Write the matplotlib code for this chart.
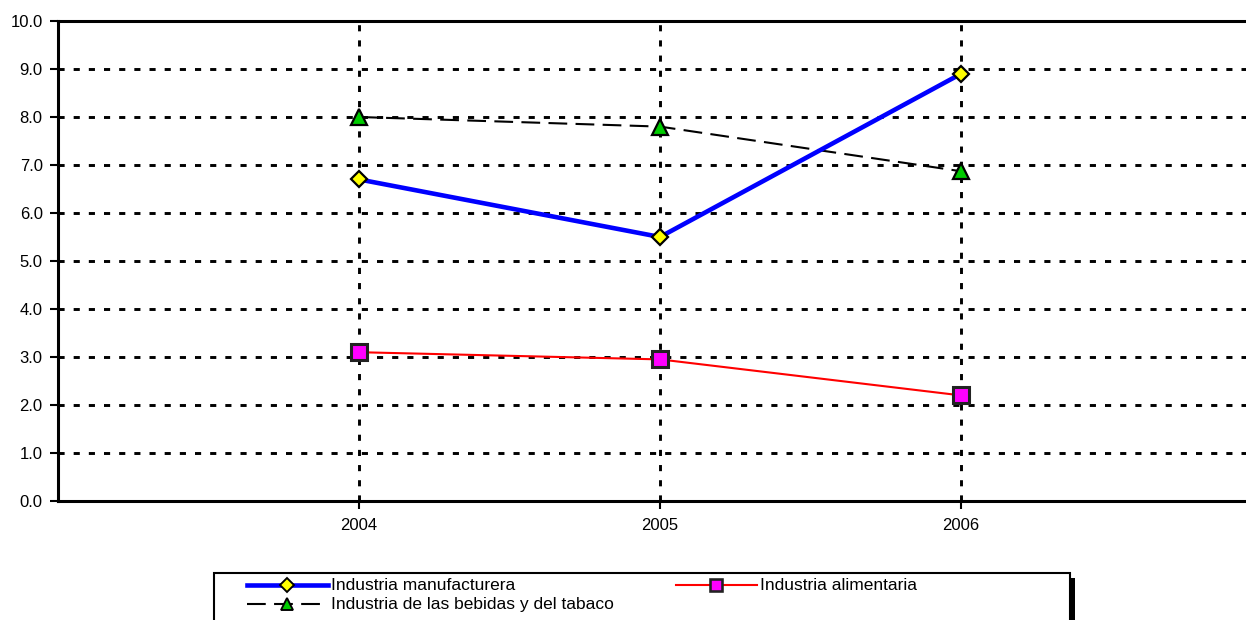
import matplotlib
matplotlib.use("Agg")
import matplotlib.pyplot as plt
from matplotlib.lines import Line2D
from matplotlib.patches import Rectangle

plt.rcParams["font.family"] = ["Liberation Sans", "DejaVu Sans"]

years = ["2004", "2005", "2006"]
manufacturera = [6.7, 5.5, 8.9]
alimentaria = [3.1, 2.95, 2.2]
bebidas = [8.0, 7.8, 6.87]
yticks = [0, 1, 2, 3, 4, 5, 6, 7, 8, 9, 10]

W, H = 1246, 620
fig = plt.figure(figsize=(W / 100, H / 100), dpi=100)
ax = fig.add_axes([58 / W, 1 - 501 / H, 1 - 58 / W, (501 - 21) / H])

x = list(range(len(years)))
grid_ls = (0, (2.1, 3.1))
for v in yticks[1:]:
    ax.axhline(v, color="black", lw=2.1, ls=grid_ls, zorder=1)
for xi in x:
    ax.axvline(xi, color="black", lw=2.1, ls=grid_ls, zorder=1)

sty_bev = dict(color="black", lw=1.5, ls=(0, (9, 4)), marker="^", ms=11,
               mfc="#00cc00", mec="black", mew=1.6)
sty_man = dict(color="#0000ff", lw=3.3, marker="D", ms=8.5, mfc="#ffff00",
               mec="black", mew=1.6)
sty_ali = dict(color="#ff0000", lw=1.5, marker="s", ms=11, mfc="#ff00ff",
               mec="#222222", mew=2.2)

ax.plot(x, bebidas, zorder=3, **sty_bev)
ax.plot(x, manufacturera, zorder=4, **sty_man)
ax.plot(x, alimentaria, zorder=4, **sty_ali)

ax.set_xlim(-1, -1 + (W - 58) / 301)
ax.set_ylim(0, 10)
ax.set_xticks(x)
ax.set_xticklabels(years)
ax.set_yticks(yticks)
ax.set_yticklabels([f"{v:.1f}" for v in yticks])
ax.tick_params(axis="both", labelsize=12, width=1.5, length=6, color="black")
ax.tick_params(axis="x", pad=6)
ax.tick_params(axis="y", pad=5)
for s in ["left", "bottom", "top"]:
    ax.spines[s].set_linewidth(2.2)
    ax.spines[s].set_color("black")
    ax.spines[s].set_zorder(5)
ax.spines["right"].set_visible(False)


def fx(px):
    return px / W


def fy(py):
    return 1 - py / H


# legend box with shadow
fig.add_artist(Rectangle((fx(219), fy(640)), fx(856), 640 / H - 578 / H,
                         transform=fig.transFigure, facecolor="black",
                         edgecolor="none", zorder=1))
fig.add_artist(Rectangle((fx(214), fy(635)), fx(856), 635 / H - 573 / H,
                         transform=fig.transFigure, facecolor="white",
                         edgecolor="black", lw=1.5, zorder=2))

entries = [
    ("Industria manufacturera", 247, 585, sty_man),
    ("Industria alimentaria", 676, 585, sty_ali),
    ("Industria de las bebidas y del tabaco", 247, 604, sty_bev),
]
marker_keys = ("marker", "ms", "mfc", "mec", "mew")
for label, x0, yy, style in entries:
    fig.add_artist(Line2D([fx(x0), fx(x0 + 81)], [fy(yy), fy(yy)], transform=fig.transFigure,
                          zorder=3, **{k: v for k, v in style.items() if k not in marker_keys}))
    fig.add_artist(Line2D([fx(x0 + 40)], [fy(yy)], transform=fig.transFigure, zorder=4,
                          ls="none", marker=style["marker"], ms=style["ms"] * 0.85,
                          mfc=style["mfc"], mec=style["mec"], mew=style["mew"] * 0.85))
    fig.text(fx(x0 + 84), fy(yy), label, fontsize=12.5, va="center", ha="left", zorder=5)

fig.savefig("out.png", dpi=100)
